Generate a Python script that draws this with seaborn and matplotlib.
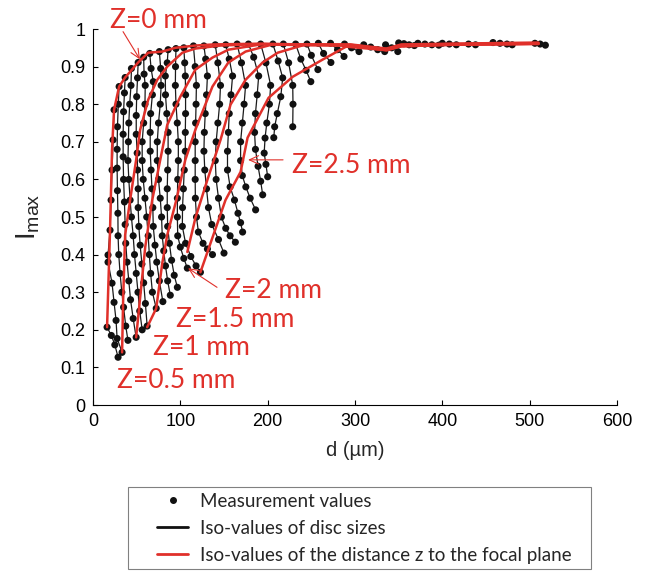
import matplotlib
matplotlib.use('Agg')
import matplotlib.pyplot as plt
from matplotlib.lines import Line2D
from matplotlib.patches import Rectangle
import pandas as pd
import seaborn as sns

# Iso-values of disc sizes: one list of points per disc (d in um, Imax)
disc_d = [
    [16.1, 21, 25, 28.7],
    [24.1, 23, 21.8, 20.7, 19.5, 17.2, 17.2, 21.8, 24.1, 26.4, 27.6, 33.3],
    [29.9, 29, 28, 27.6, 27.6, 28, 28.5, 28.7, 29.5, 31, 33, 35, 37.5, 40],
    [36.8, 36, 35, 34.5, 34.5, 35, 36, 36.8, 37.5, 39, 41, 43, 46, 49.4],
    [44, 43.5, 42, 41, 40.5, 40, 41, 42.5, 44, 46, 47.5, 49.5, 51.5, 53.5, 56.3],
    [51.7, 51, 50, 49.5, 49.5, 50.6, 51, 51.7, 51.7, 52.5, 54, 56, 58, 60, 62],
    [58, 58.5, 59.8, 59.5, 58, 56.3, 56.3, 57.5, 59.5, 61.5, 63.2, 64.5, 66, 68, 72.4],
    [65, 66.5, 69, 68, 66, 65.5, 65.5, 66.5, 67.5, 68.5, 69, 71, 73, 76, 80],
    [76, 77.5, 78, 77, 75, 73.6, 73.6, 75, 77, 78.5, 79.3, 81, 83, 85.5, 88.5],
    [86, 85, 82.8, 83, 84.5, 86, 86, 85.5, 85, 85, 85.5, 87.5, 90, 93, 96.6],
    [95, 94.5, 94.3, 95, 96.5, 97.7, 97.7, 97, 96.6, 96.6, 97, 100, 104, 108],
    [104, 105, 105.7, 106, 106, 105.7, 105.7, 104.5, 103.5, 102.5, 102.3, 106, 112, 118, 123],
    [115, 117, 118.4, 118, 117.5, 117, 117, 117, 117.2, 118.5, 120.7, 126, 131, 136.8],
    [127, 129, 131, 130, 128.5, 127.5, 127, 128, 130, 132.2, 136, 143.7, 150],
    [140, 143, 146, 145, 143, 141, 140, 141, 143.7, 147, 152, 157, 163],
    [152, 156, 159.8, 158, 156, 155, 154, 154, 157, 162, 166, 169, 171.3],
    [165, 170, 174.7, 173, 171, 169, 169, 171, 175, 180, 186.2],
    [178, 184, 189.7, 188, 186, 185, 186, 189, 192, 194.3],
    [192, 198, 203.4, 202, 199, 197, 196, 198, 200],
    [206, 212, 217.2, 215, 211, 208, 207],
    [218, 224, 228.7, 229, 228.7],
    [232, 238, 244, 249.4],
    [245, 250, 257.5],
    [258, 264, 272.4],
    [272, 280, 287.4],
    [288, 296, 304.6],
    [310, 318, 326, 334],
    [335, 342, 349],
    [350, 356, 362, 368],
    [372, 380, 388, 396],
    [400, 408, 416],
    [430, 438],
    [458, 466, 474, 480],
    [506, 512, 518],
]
disc_imax = [
    [0.207, 0.185, 0.16, 0.127],
    [0.785, 0.705, 0.625, 0.545, 0.465, 0.399, 0.38, 0.324, 0.273, 0.225, 0.177, 0.14],
    [0.847, 0.8, 0.74, 0.68, 0.63, 0.57, 0.51, 0.45, 0.4, 0.35, 0.3, 0.26, 0.21, 0.172],
    [0.871, 0.83, 0.78, 0.72, 0.66, 0.6, 0.54, 0.48, 0.43, 0.38, 0.33, 0.28, 0.23, 0.18],
    [0.895, 0.85, 0.8, 0.75, 0.7, 0.65, 0.6, 0.545, 0.5, 0.45, 0.4, 0.35, 0.3, 0.25, 0.2],
    [0.911, 0.87, 0.82, 0.77, 0.72, 0.67, 0.625, 0.575, 0.525, 0.475, 0.425, 0.375, 0.325, 0.27, 0.21],
    [0.925, 0.88, 0.85, 0.8, 0.75, 0.7, 0.65, 0.6, 0.55, 0.5, 0.45, 0.4, 0.35, 0.3, 0.257],
    [0.935, 0.895, 0.86, 0.825, 0.775, 0.725, 0.675, 0.625, 0.575, 0.525, 0.475, 0.425, 0.38, 0.33, 0.275],
    [0.94, 0.895, 0.85, 0.8, 0.75, 0.7, 0.65, 0.6, 0.55, 0.5, 0.45, 0.41, 0.37, 0.33, 0.292],
    [0.945, 0.91, 0.875, 0.825, 0.775, 0.725, 0.675, 0.625, 0.575, 0.525, 0.475, 0.43, 0.385, 0.345, 0.313],
    [0.948, 0.9, 0.85, 0.8, 0.75, 0.7, 0.65, 0.6, 0.55, 0.5, 0.45, 0.42, 0.39, 0.364],
    [0.95, 0.91, 0.875, 0.825, 0.775, 0.725, 0.675, 0.625, 0.575, 0.525, 0.475, 0.43, 0.395, 0.37, 0.353],
    [0.955, 0.9, 0.85, 0.8, 0.75, 0.7, 0.65, 0.6, 0.55, 0.5, 0.46, 0.43, 0.415, 0.4],
    [0.955, 0.92, 0.875, 0.825, 0.775, 0.725, 0.675, 0.625, 0.575, 0.525, 0.48, 0.44, 0.404],
    [0.958, 0.91, 0.85, 0.8, 0.75, 0.7, 0.65, 0.6, 0.55, 0.5, 0.47, 0.45, 0.433],
    [0.958, 0.92, 0.875, 0.825, 0.775, 0.725, 0.675, 0.625, 0.58, 0.545, 0.51, 0.485, 0.46],
    [0.96, 0.91, 0.85, 0.8, 0.75, 0.7, 0.65, 0.61, 0.58, 0.55, 0.519],
    [0.96, 0.925, 0.875, 0.825, 0.775, 0.725, 0.68, 0.635, 0.595, 0.559],
    [0.96, 0.91, 0.85, 0.8, 0.75, 0.71, 0.67, 0.64, 0.607],
    [0.96, 0.915, 0.87, 0.82, 0.775, 0.74, 0.711],
    [0.96, 0.91, 0.85, 0.8, 0.74],
    [0.96, 0.92, 0.89, 0.86],
    [0.96, 0.93, 0.892],
    [0.962, 0.935, 0.911],
    [0.962, 0.945, 0.927],
    [0.96, 0.95, 0.94],
    [0.958, 0.952, 0.945, 0.94],
    [0.958, 0.95, 0.94],
    [0.963, 0.961, 0.958, 0.956],
    [0.962, 0.96, 0.958, 0.957],
    [0.962, 0.96, 0.958],
    [0.96, 0.958],
    [0.964, 0.962, 0.96, 0.958],
    [0.962, 0.96, 0.957],
]

# Iso-values of the distance z to the focal plane
z_names = ['0', '0.5', '1', '1.5', '2', '2.5']
z_d = [
    [16.1, 19.5, 21.8, 24.1, 29.9, 36.8, 51.7, 63.2, 79.3, 94.3, 117.2, 138, 192, 238, 295, 336, 353, 410, 510],
    [33.3, 34.5, 36.8, 42.5, 49.4, 54, 63.2, 73.6, 85, 102.3, 117.2, 146, 192, 238, 295, 336, 353, 410, 510],
    [49.4, 59.8, 67.8, 77, 85, 100, 117.2, 136.8, 155, 192, 238, 295, 336, 353, 410, 510],
    [62, 72.4, 79.3, 85, 95.4, 105.7, 117.2, 136.8, 155, 174.7, 205.7, 238, 295, 336, 353, 410, 510],
    [108, 117.2, 131, 146, 157.5, 174.7, 194.3, 211.5, 243.7, 295, 336, 353, 410, 510],
    [123, 151.7, 169, 177, 201, 228.7, 263.2, 289.7, 330, 353, 410, 510],
]
z_imax = [
    [0.207, 0.465, 0.679, 0.785, 0.847, 0.871, 0.911, 0.937, 0.94, 0.95, 0.956, 0.959, 0.961, 0.959, 0.959, 0.948, 0.959, 0.961, 0.964],
    [0.14, 0.279, 0.452, 0.545, 0.652, 0.732, 0.812, 0.865, 0.9, 0.937, 0.948, 0.956, 0.96, 0.958, 0.958, 0.946, 0.957, 0.96, 0.962],
    [0.18, 0.42, 0.545, 0.652, 0.745, 0.82, 0.892, 0.924, 0.945, 0.959, 0.958, 0.957, 0.945, 0.956, 0.959, 0.962],
    [0.207, 0.257, 0.377, 0.452, 0.545, 0.652, 0.732, 0.847, 0.911, 0.94, 0.959, 0.957, 0.956, 0.944, 0.955, 0.959, 0.961],
    [0.407, 0.497, 0.599, 0.705, 0.799, 0.865, 0.911, 0.937, 0.959, 0.956, 0.943, 0.954, 0.958, 0.961],
    [0.353, 0.545, 0.62, 0.711, 0.817, 0.873, 0.919, 0.953, 0.945, 0.954, 0.958, 0.96],
]

RED = '#e0302a'

sns.set_theme(style='ticks')
plt.rcParams['font.family'] = ['Liberation Sans', 'DejaVu Sans']
plt.rcParams['mathtext.fontset'] = 'custom'
plt.rcParams['mathtext.rm'] = 'Liberation Sans'
plt.rcParams['mathtext.it'] = 'Liberation Sans:italic'

rows = []
for k, (ds, vs) in enumerate(zip(disc_d, disc_imax)):
    for d, v in zip(ds, vs):
        rows.append((d, v, k))
disc_df = pd.DataFrame(rows, columns=['d', 'imax', 'disc'])

rows = []
for name, ds, vs in zip(z_names, z_d, z_imax):
    for d, v in zip(ds, vs):
        rows.append((d, v, name))
z_df = pd.DataFrame(rows, columns=['d', 'imax', 'z'])

fig = plt.figure(figsize=(6.49, 5.71), dpi=100)
ax = fig.add_axes([0.1433, 0.2907, 0.8074, 0.6585])

sns.lineplot(data=disc_df, x='d', y='imax', units='disc', estimator=None, sort=False,
             color='#1a1a1a', lw=0.9, ax=ax, zorder=2)
sns.scatterplot(data=disc_df, x='d', y='imax', color='#111111', s=26, edgecolor='none',
                ax=ax, zorder=3)
sns.lineplot(data=z_df, x='d', y='imax', units='z', estimator=None, sort=False,
             color=RED, lw=1.8, ax=ax, zorder=4)

ax.set_xlim(0, 600)
ax.set_ylim(0, 1)
ax.set_xticks(range(0, 601, 100))
yt = [i / 10 for i in range(11)]
ax.set_yticks(yt)
ax.set_yticklabels(['0'] + ['%.1f' % v for v in yt[1:-1]] + ['1'])
ax.tick_params(direction='in', length=3.6, width=0.8, labelsize=13, pad=5.5, colors='black')
sns.despine(ax=ax)
for s in ['left', 'bottom']:
    ax.spines[s].set_color('black')
    ax.spines[s].set_linewidth(0.8)

ax.set_xlabel('d (\u00b5m)', fontsize=14.5, labelpad=8)
ax.set_ylabel(r'I$_{\mathrm{max}}$', fontsize=20)
ax.yaxis.set_label_coords(-0.097, 0.5)

# red labels of the z curves
lab = dict(family='Lato', fontsize=19, color=RED, ha='left', va='baseline')
ax.text(19.5, 1.004, 'Z=0 mm', clip_on=False, **lab)
ax.text(228, 0.617, 'Z=2.5 mm', **lab)
ax.text(151, 0.284, 'Z=2 mm', **lab)
ax.text(95, 0.207, 'Z=1.5 mm', **lab)
ax.text(68.7, 0.132, 'Z=1 mm', **lab)
ax.text(27.5, 0.044, 'Z=0.5 mm', **lab)
arr = dict(arrowstyle='->,head_length=0.55,head_width=0.25', color=RED, lw=0.8,
           shrinkA=0, shrinkB=0)
ax.annotate('', xy=(53.8, 0.919), xytext=(34.4, 0.993), arrowprops=arr, annotation_clip=False)
ax.annotate('', xy=(177.5, 0.652), xytext=(217.6, 0.652), arrowprops=arr)
ax.annotate('', xy=(108.8, 0.364), xytext=(142, 0.313), arrowprops=arr)

# legend in its own box
fig.add_artist(Rectangle((0.1972, 0.0035), 0.7134, 0.1436, transform=fig.transFigure,
                         fill=False, edgecolor='#808080', lw=0.8))
handles = [Line2D([], [], marker='o', ls='none', color='#111111', markersize=4),
           Line2D([], [], color='#111111', lw=2),
           Line2D([], [], color=RED, lw=2)]
labels = ['Measurement values', 'Iso-values of disc sizes',
          'Iso-values of the distance z to the focal plane']
fig.legend(handles, labels, loc='upper left', bbox_to_anchor=(157 / 649, 1 - 493 / 571),
           frameon=False, borderpad=0, borderaxespad=0, handlelength=1.67,
           handletextpad=0.6, labelspacing=0.52, prop={'family': 'Lato', 'size': 13.5})

fig.savefig('out.png', dpi=100)
